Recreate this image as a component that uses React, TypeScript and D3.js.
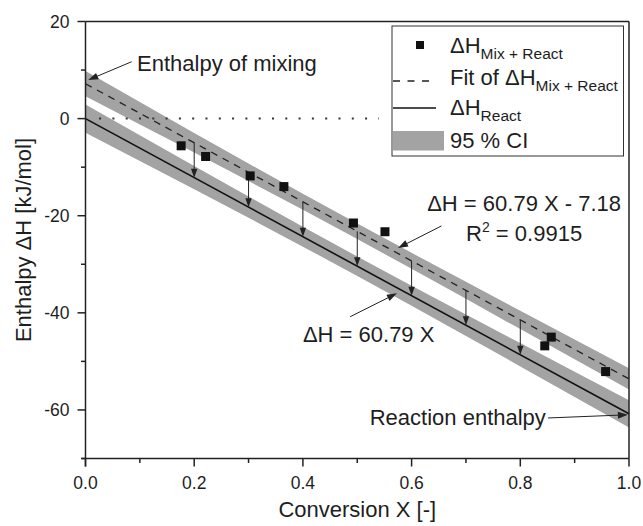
import React from "react";
import * as d3 from "d3";

// ---- data ----
const measX = [0.176, 0.221, 0.303, 0.365, 0.493, 0.551, 0.845, 0.857, 0.957];
const measY = [-5.6, -7.8, -11.8, -14.0, -21.5, -23.3, -46.8, -45.0, -52.1];

const lineX = [0, 1];
const fitMixReact = [7.18, -53.61]; // ΔH = -60.79 X + 7.18 (dashed)
const fitReact = [0, -60.79]; // ΔH = -60.79 X (solid)

const bandX = [0, 0.1, 0.2, 0.3, 0.4, 0.5, 0.6, 0.7, 0.8, 0.9, 1.0];
const bandHalfMix = [2.6, 2.3, 2.0, 1.8, 1.65, 1.6, 1.65, 1.75, 1.9, 2.05, 2.2];
const bandHalfReact = [2.9, 2.65, 2.4, 2.2, 2.05, 2.0, 2.05, 2.2, 2.4, 2.6, 2.8];

const arrowX = [0.2, 0.3, 0.4, 0.5, 0.6, 0.7, 0.8];

const xTicks = [0, 0.2, 0.4, 0.6, 0.8, 1.0];
const xMinor = [0.1, 0.3, 0.5, 0.7, 0.9];
const yTicks = [20, 0, -20, -40, -60];
const yMinor = [10, -10, -30, -50, -70];

const W = 643, H = 526;
const FONT = "'Liberation Sans', Arial, Helvetica, sans-serif";
const TXT = "#1e1e1e";

const x = d3.scaleLinear().domain([0, 1]).range([85.5, 629]);
const y = d3.scaleLinear().domain([-70, 20]).range([458.5, 21.5]);

const interp = (xs: number[], ys: number[]) => (v: number) => {
  const t = (v - xs[0]) / (xs[1] - xs[0]);
  return ys[0] + t * (ys[1] - ys[0]);
};
const mixAt = interp(lineX, fitMixReact);
const reactAt = interp(lineX, fitReact);

function band(center: (v: number) => number, half: number[]) {
  const a = d3
    .area<number>()
    .x((v) => x(v))
    .y0((v, i) => y(center(v) - half[i]))
    .y1((v, i) => y(center(v) + half[i]));
  return a(bandX) || "";
}

function arrowHead(x1: number, y1: number, x2: number, y2: number, len = 10, hw = 3.5) {
  const dx = x2 - x1, dy = y2 - y1;
  const L = Math.hypot(dx, dy);
  const ux = dx / L, uy = dy / L;
  const bx = x2 - ux * len, by = y2 - uy * len;
  const px = -uy, py = ux;
  return `M${x2},${y2}L${bx + px * hw},${by + py * hw}L${bx - px * hw},${by - py * hw}Z`;
}

function Arrow({ x1, y1, x2, y2, len = 10, hw = 3.5, w = 1 }: any) {
  const dx = x2 - x1, dy = y2 - y1;
  const L = Math.hypot(dx, dy);
  const ex = x2 - (dx / L) * (len - 1), ey = y2 - (dy / L) * (len - 1);
  return (
    <g>
      <line x1={x1} y1={y1} x2={ex} y2={ey} stroke="#222" strokeWidth={w} />
      <path d={arrowHead(x1, y1, x2, y2, len, hw)} fill="#222" />
    </g>
  );
}

// annotation anchors in data units
const annMix = { tx: 0.0948, ty: 9.8, ax1: 0.085, ay1: 11.72, ax2: 0.005, ay2: 7.95 };
const annFit = { tx: 0.807, ty1: -19.0, ty2: -25.2, ax1: 0.655, ay1: -22.1, ax2: 0.575, ay2: -26.65 };
const annReact = { tx: 0.4, ty: -45.95, ax1: 0.487, ay1: -40.8, ax2: 0.573, ay2: -35.98 };
const annReaction = { tx: 0.847, ty: -63.1, ax1: 0.851, ay1: -61.65, ax2: 0.998, ay2: -61.0 };

export default function App() {
  const x0 = x(0), x1 = x(1), yTop = y(20), yBot = y(-70);
  return (
    <svg
      width={W}
      height={H}
      style={{ position: "absolute", left: 0, top: 0, background: "#fff" }}
      fontFamily={FONT}
    >
      <rect width={W} height={H} fill="#fff" />
      {/* CI bands */}
      <path d={band(mixAt, bandHalfMix)} fill="#a3a3a3" />
      <path d={band(reactAt, bandHalfReact)} fill="#a3a3a3" />

      {/* dotted zero line */}
      <line
        x1={x(0.025)}
        x2={x(0.54)}
        y1={y(0)}
        y2={y(0)}
        stroke="#333"
        strokeWidth={2}
        strokeDasharray="2,11.3"
      />

      {/* fit lines */}
      <line
        x1={x(lineX[0])}
        y1={y(fitMixReact[0])}
        x2={x(lineX[1])}
        y2={y(fitMixReact[1])}
        stroke="#222"
        strokeWidth={1.3}
        strokeDasharray="7,6"
      />
      <line
        x1={x(lineX[0])}
        y1={y(fitReact[0])}
        x2={x(lineX[1])}
        y2={y(fitReact[1])}
        stroke="#111"
        strokeWidth={1.6}
      />

      {/* vertical arrows */}
      {arrowX.map((v) => (
        <Arrow key={v} x1={x(v)} y1={y(mixAt(v))} x2={x(v)} y2={y(reactAt(v))} len={9} hw={3.2} />
      ))}

      {/* measured points */}
      {measX.map((v, i) => (
        <rect key={i} x={x(v) - 4.5} y={y(measY[i]) - 4.5} width={9} height={9} fill="#111" />
      ))}

      {/* annotations */}
      <Arrow x1={x(annMix.ax1)} y1={y(annMix.ay1)} x2={x(annMix.ax2)} y2={y(annMix.ay2)} />
      <text x={x(annMix.tx)} y={y(annMix.ty)} fontSize={22} fill={TXT}>
        Enthalpy of mixing
      </text>

      <Arrow x1={x(annFit.ax1)} y1={y(annFit.ay1)} x2={x(annFit.ax2)} y2={y(annFit.ay2)} />
      <text x={x(annFit.tx)} y={y(annFit.ty1)} fontSize={22} fill={TXT} textAnchor="middle">
        ΔH = 60.79 X - 7.18
      </text>
      <text x={x(annFit.tx)} y={y(annFit.ty2)} fontSize={22} fill={TXT} textAnchor="middle">
        R<tspan dy={-9} fontSize={14}>2</tspan>
        <tspan dy={9}> = 0.9915</tspan>
      </text>

      <Arrow x1={x(annReact.ax1)} y1={y(annReact.ay1)} x2={x(annReact.ax2)} y2={y(annReact.ay2)} />
      <text x={x(annReact.tx)} y={y(annReact.ty)} fontSize={22} fill={TXT}>
        ΔH = 60.79 X
      </text>

      <Arrow
        x1={x(annReaction.ax1)}
        y1={y(annReaction.ay1)}
        x2={x(annReaction.ax2)}
        y2={y(annReaction.ay2)}
      />
      <text x={x(annReaction.tx)} y={y(annReaction.ty)} fontSize={22} fill={TXT} textAnchor="end">
        Reaction enthalpy
      </text>

      {/* legend */}
      <g>
        <rect x={392} y={26} width={231.5} height={130} fill="#fff" stroke="#333" strokeWidth={1} />
        <rect x={416} y={41} width={8} height={8} fill="#111" />
        <text x={450} y={53} fontSize={22} fill={TXT}>
          ΔH<tspan dy={6} fontSize={15.5}>Mix + React</tspan>
        </text>
        <line x1={393} x2={436} y1={81} y2={81} stroke="#222" strokeWidth={1.3} strokeDasharray="7,7.5" />
        <text x={450} y={85} fontSize={22} fill={TXT}>
          Fit of ΔH<tspan dy={6} fontSize={15.5}>Mix + React</tspan>
        </text>
        <line x1={393} x2={436} y1={108} y2={108} stroke="#111" strokeWidth={1.6} />
        <text x={450} y={115} fontSize={22} fill={TXT}>
          ΔH<tspan dy={6} fontSize={15.5}>React</tspan>
        </text>
        <rect x={393} y={131} width={51} height={19.5} fill="#a3a3a3" />
        <text x={450} y={148} fontSize={22} fill={TXT}>
          95 % CI
        </text>
      </g>

      {/* frame */}
      <line x1={x0} x2={x1} y1={yTop} y2={yTop} stroke="#222" strokeWidth={1.5} />
      <line x1={x1} x2={x1} y1={yTop} y2={yBot} stroke="#222" strokeWidth={1.5} />
      <line x1={x0 - 4} x2={x1} y1={yBot} y2={yBot} stroke="#222" strokeWidth={1.5} />
      <line x1={x0} x2={x0} y1={yTop} y2={yBot + 8} stroke="#222" strokeWidth={1.5} />

      {/* x ticks */}
      {xTicks.map((t) => (
        <g key={t}>
          <line x1={x(t)} x2={x(t)} y1={yBot} y2={yBot + 8} stroke="#222" strokeWidth={1.5} />
          <text x={x(t)} y={yBot + 30} fontSize={17.5} fill={TXT} textAnchor="middle">
            {t.toFixed(1)}
          </text>
        </g>
      ))}
      {xMinor.map((t) => (
        <line key={t} x1={x(t)} x2={x(t)} y1={yBot} y2={yBot + 4.5} stroke="#222" strokeWidth={1.5} />
      ))}
      {/* y ticks */}
      {yTicks.map((t) => (
        <g key={t}>
          <line x1={x0 - 8} x2={x0} y1={y(t)} y2={y(t)} stroke="#222" strokeWidth={1.5} />
          <text x={x0 - 16} y={y(t) + 6} fontSize={17.5} fill={TXT} textAnchor="end">
            {String(t)}
          </text>
        </g>
      ))}
      {yMinor.map((t) => (
        <line key={t} x1={x0 - 4.5} x2={x0} y1={y(t)} y2={y(t)} stroke="#222" strokeWidth={1.5} />
      ))}

      {/* axis titles */}
      <text x={(x0 + x1) / 2} y={517} fontSize={22} fill={TXT} textAnchor="middle">
        Conversion X [-]
      </text>
      <text
        transform={`translate(31,${(yTop + yBot) / 2}) rotate(-90)`}
        fontSize={22}
        fill={TXT}
        textAnchor="middle"
      >
        Enthalpy ΔH [kJ/mol]
      </text>
    </svg>
  );
}
